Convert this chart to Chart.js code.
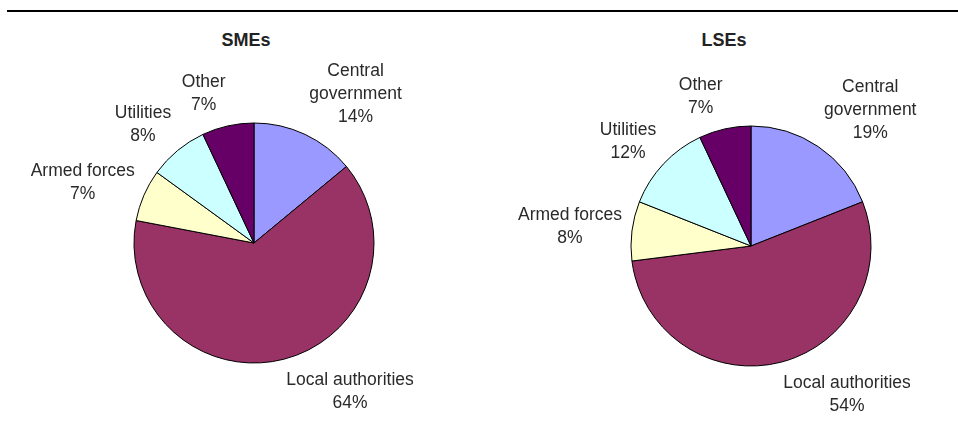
<!DOCTYPE html>
<html>
<head>
<meta charset="utf-8">
<script src="https://cdn.jsdelivr.net/npm/chart.js@4"></script>
<style>
  html, body { margin: 0; padding: 0; background: #fff; }
  #wrap { position: relative; width: 958px; height: 421px; overflow: hidden; font-family: "Liberation Sans", Arial, sans-serif; }
  #rule { position: absolute; left: 7px; right: 0; top: 10px; height: 2px; background: #000; }
  .title { position: absolute; top: 30px; font-weight: bold; font-size: 18px; color: #222; transform: translateX(-50%); }
  .box { position: absolute; top: 0; width: 479px; height: 421px; }
</style>
</head>
<body>
<div id="wrap">
  <div id="rule"></div>
  <div class="title" style="left:246px">SMEs</div>
  <div class="title" style="left:724px">LSEs</div>
  <div class="box" style="left:0"><canvas id="smeChart"></canvas></div>
  <div class="box" style="left:479px"><canvas id="lseChart"></canvas></div>
</div>
<script>
// Répartition des marchés publics par type d'acheteur (%)
const categories = ['Central government', 'Local authorities', 'Armed forces', 'Utilities', 'Other'];
const smeShares = [14, 64, 7, 8, 7];
const lseShares = [19, 54, 8, 12, 7];
const sliceColors = ['#9999FF', '#993366', '#FFFFCC', '#CCFFFF', '#660066'];

// Étiquettes à l'extérieur des parts, façon tableur
const outsideLabels = {
    id: 'outsideLabels',
    afterDatasetsDraw(chart) {
        const ctx = chart.ctx;
        const meta = chart.getDatasetMeta(0);
        const values = chart.data.datasets[0].data;
        const lineH = 23;
        ctx.save();
        ctx.font = '17.5px "Liberation Sans", Arial, sans-serif';
        ctx.fillStyle = '#2a2a2a';
        ctx.textAlign = 'center';
        ctx.textBaseline = 'middle';
        meta.data.forEach((arc, i) => {
            const mid = (arc.startAngle + arc.endAngle) / 2;
            const r = arc.outerRadius + 10;
            const ax = arc.x + Math.cos(mid) * r;
            const ay = arc.y + Math.sin(mid) * r;
            let lines = chart.data.labels[i].split(' ');
            if (lines.length > 1 && lines[0] !== 'Central') lines = [chart.data.labels[i]];
            lines.push(values[i] + '%');
            const w = Math.max(...lines.map(l => ctx.measureText(l).width));
            const h = lines.length * lineH;
            const cx = ax + (Math.cos(mid) >= 0 ? w / 2 : -w / 2);
            const cy = ay + Math.sin(mid) * h / 2;
            lines.forEach((l, k) => {
                ctx.fillText(l, cx, cy - h / 2 + lineH / 2 + k * lineH);
            });
        });
        ctx.restore();
    }
};

function makePie(id, shares, padding) {
    return new Chart(document.getElementById(id), {
        type: 'pie',
        data: {
            labels: categories,
            datasets: [{
                data: shares,
                backgroundColor: sliceColors,
                borderColor: '#000',
                borderWidth: 1,
                radius: 120
            }]
        },
        options: {
            responsive: true,
            maintainAspectRatio: false,
            animation: false,
            layout: { padding: padding },
            plugins: {
                legend: { display: false },
                tooltip: { enabled: false }
            }
        },
        plugins: [outsideLabels]
    });
}

makePie('smeChart', smeShares, { left: 54, right: 25, top: 83, bottom: 18 });
makePie('lseChart', lseShares, { left: 72, right: 7, top: 86, bottom: 15 });
</script>
</body>
</html>
